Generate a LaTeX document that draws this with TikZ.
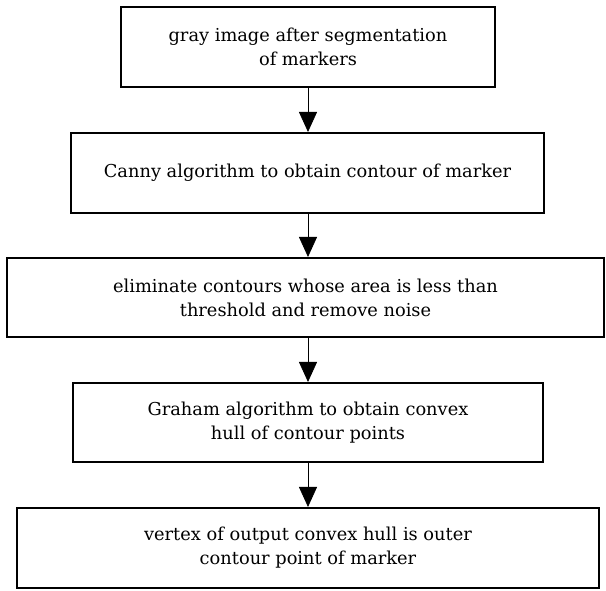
\documentclass[tikz,border=0pt]{standalone}
\usepackage{fontspec}
\setmainfont{DejaVu Serif}
\usetikzlibrary{arrows.meta,calc}
\tikzset{
  x=1pt, y=1pt,
  stepnode/.style = {draw=black, line width=2pt, align=center, inner sep=0pt,
    font=\fontsize{17.8}{24}\selectfont},
  flowarrow/.style = {line width=0.8pt, -{Triangle[length=20pt,width=18pt]}}
}

\begin{document}
\begin{tikzpicture}
\useasboundingbox (0,0) rectangle (606,591);
\node [stepnode, minimum width=374pt, minimum height=80pt] (gray) at (308,544)
	{gray image after segmentation\\of markers};
\node [stepnode, minimum width=473pt, minimum height=80pt] (canny) at (307.5,418)
	{Canny algorithm to obtain contour of marker};
\node [stepnode, minimum width=597pt, minimum height=79pt] (elim) at (305.5,293.5)
	{eliminate contours whose area is less than\\threshold and remove noise};
\node [stepnode, minimum width=470pt, minimum height=79pt] (graham) at (308,168.5)
	{Graham algorithm to obtain convex\\hull of contour points};
\node [stepnode, minimum width=582pt, minimum height=80pt] (vertex) at (308,43)
	{vertex of output convex hull is outer\\contour point of marker};
% arrows between steps
\draw [flowarrow] (gray.south -| 308,0) -- (canny.north -| 308,0);
\draw [flowarrow] (canny.south -| 308,0) -- (elim.north -| 308,0);
\draw [flowarrow] (elim.south -| 308,0) -- (graham.north -| 308,0);
\draw [flowarrow] (graham.south -| 308,0) -- (vertex.north -| 308,0);
\end{tikzpicture}
\end{document}
